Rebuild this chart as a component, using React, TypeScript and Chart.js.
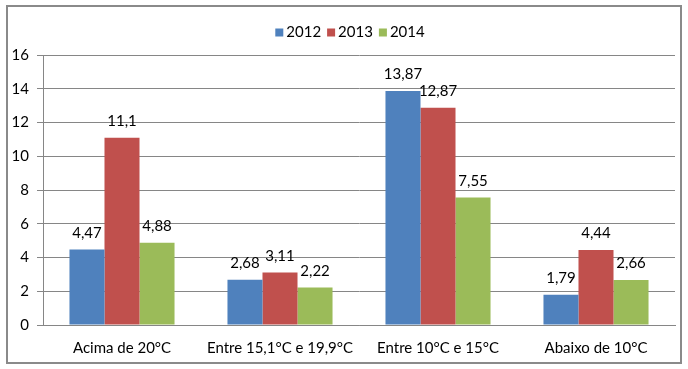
import React, { useEffect, useRef } from "react";
import { Chart, registerables } from "chart.js";

Chart.register(...registerables);

const categories = ["Acima de 20°C", "Entre 15,1°C e 19,9°C", "Entre 10°C e 15°C", "Abaixo de 10°C"];
const seriesNames = ["2012", "2013", "2014"];
const values2012 = [4.47, 2.68, 13.87, 1.79];
const values2013 = [11.1, 3.11, 12.87, 4.44];
const values2014 = [4.88, 2.22, 7.55, 2.66];
const colors = ["#4F81BD", "#C0504D", "#9BBB59"];
const yTicks = [0, 2, 4, 6, 8, 10, 12, 14, 16];

const FONT = "Lato, 'Open Sans', sans-serif";

const labelPlugin = {
  id: "barLabels",
  afterDatasetsDraw(chart: any) {
    const ctx = chart.ctx;
    ctx.save();
    ctx.font = `15px ${FONT}`;
    ctx.fillStyle = "#000";
    ctx.textAlign = "center";
    ctx.textBaseline = "bottom";
    chart.data.datasets.forEach((ds: any, i: number) => {
      const meta = chart.getDatasetMeta(i);
      meta.data.forEach((bar: any, j: number) => {
        const v = ds.data[j];
        ctx.fillText(String(v).replace(".", ","), bar.x, bar.y - 9);
      });
    });
    ctx.restore();
  },
};

const legendPlugin = {
  id: "customLegend",
  afterDraw(chart: any) {
    const ctx = chart.ctx;
    ctx.save();
    ctx.font = `15px ${FONT}`;
    ctx.textBaseline = "middle";
    ctx.textAlign = "left";
    const box = 8;
    const gapBoxText = 3;
    const gapItems = 6;
    const items = chart.data.datasets.map((ds: any) => ({
      label: ds.label,
      color: ds.backgroundColor,
      w: ctx.measureText(ds.label).width,
    }));
    const total = items.reduce((a: number, it: any) => a + box + gapBoxText + it.w, 0) + gapItems * (items.length - 1);
    let x = 342 - total / 2;
    const cy = 25.5;
    items.forEach((it: any) => {
      ctx.fillStyle = it.color;
      ctx.fillRect(x, cy - box / 2, box, box);
      x += box + gapBoxText;
      ctx.fillStyle = "#000";
      ctx.fillText(it.label, x, cy);
      x += it.w + gapItems;
    });
    ctx.restore();
  },
};

export default function App() {
  const ref = useRef<HTMLCanvasElement>(null);
  useEffect(() => {
    if (!ref.current) return;
    const data = [values2012, values2013, values2014];
    const chart = new Chart(ref.current, {
      type: "bar",
      data: {
        labels: categories,
        datasets: seriesNames.map((n, i) => ({
          label: n,
          data: data[i],
          backgroundColor: colors[i],
          borderWidth: 0,
          categoryPercentage: 0.665,
          barPercentage: 1,
        })),
      },
      options: {
        animation: false,
        responsive: true,
        maintainAspectRatio: false,
        layout: { padding: { left: 0, right: 5, top: 48, bottom: 0 } },
        plugins: {
          legend: { display: false },
          tooltip: { enabled: false },
        },
        scales: {
          x: {
            grid: { display: false },
            border: { display: true, color: "#868686", width: 1 },
            ticks: { color: "#000", font: { size: 15, family: FONT }, padding: 6, maxRotation: 0 },
            afterFit: (s: any) => { s.height = 37; },
          },
          y: {
            min: 0,
            max: 16,
            afterBuildTicks: (s: any) => { s.ticks = yTicks.map((v) => ({ value: v })); },
            grid: { color: "#868686", tickLength: 6, drawTicks: true },
            border: { display: true, color: "#868686", width: 1 },
            ticks: { color: "#000", font: { size: 15, family: FONT }, padding: 8 },
            afterFit: (s: any) => { s.width = 35; },
          },
        },
      },
      plugins: [labelPlugin, legendPlugin],
    });
    return () => chart.destroy();
  }, []);
  return (
    <div
      style={{
        position: "absolute",
        left: 6,
        top: 5,
        width: 676,
        height: 359,
        border: "2px solid #8a8a8a",
        boxSizing: "border-box",
        background: "#fff",
      }}
    >
      <canvas ref={ref} />
    </div>
  );
}
